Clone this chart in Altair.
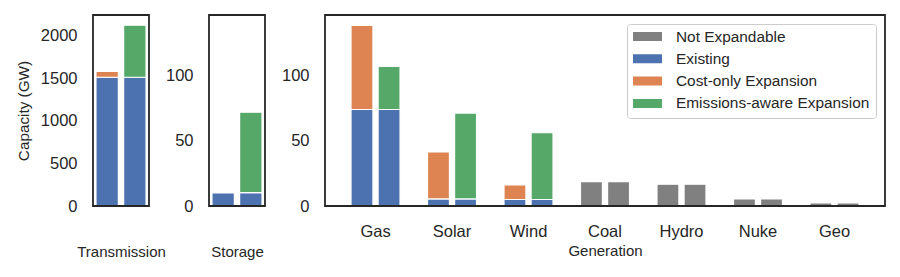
import altair as alt
import pandas as pd

# ---- data ----
components = ["Not Expandable", "Existing", "Cost-only Expansion", "Emissions-aware Expansion"]
colors = ["#808080", "#4C72B0", "#DD8452", "#55A868"]
scenarios = ["Cost-only", "Emissions-aware"]

trans_existing = [1510, 1510]
trans_expansion = [70, 610]

storage_existing = [10.0, 10.3]
storage_expansion = [0, 61.7]

gen_categories = ["Gas", "Solar", "Wind", "Coal", "Hydro", "Nuke", "Geo"]
gen_not_expandable = [0, 0, 0, 18.7, 16.7, 5.4, 2.3]
gen_existing = [74.0, 5.4, 5.0, 0, 0, 0, 0]
gen_cost_expansion = [64.5, 36.1, 11.2, 0, 0, 0, 0]
gen_emis_expansion = [33.0, 65.9, 51.2, 0, 0, 0, 0]


def build_rows(category, scenario, existing, expansion, not_exp=0):
    exp_comp = "Cost-only Expansion" if scenario == "Cost-only" else "Emissions-aware Expansion"
    out = []
    for comp, val, order in [("Not Expandable", not_exp, 0), ("Existing", existing, 1), (exp_comp, expansion, 2)]:
        if val > 0:
            out.append({"category": category, "scenario": scenario, "component": comp,
                        "value": val, "order": order})
    return out


trans_rows, storage_rows, gen_rows = [], [], []
for i, s in enumerate(scenarios):
    trans_rows += build_rows("Transmission", s, trans_existing[i], trans_expansion[i])
    storage_rows += build_rows("Storage", s, storage_existing[i], storage_expansion[i])
for j, c in enumerate(gen_categories):
    gen_rows += build_rows(c, "Cost-only", gen_existing[j], gen_cost_expansion[j], gen_not_expandable[j])
    gen_rows += build_rows(c, "Emissions-aware", gen_existing[j], gen_emis_expansion[j], gen_not_expandable[j])

df_trans = pd.DataFrame(trans_rows)
df_storage = pd.DataFrame(storage_rows)
df_gen = pd.DataFrame(gen_rows)

TXT = "#262626"
FONT = "Liberation Sans"
H = 191
color_scale = alt.Scale(domain=components, range=colors)
bar_kw = dict(stroke="white", strokeWidth=1.2)


def frame(w):
    return alt.Chart(pd.DataFrame({"f": [0]})).mark_rect(
        fill=None, filled=False, stroke=TXT, strokeWidth=1.8
    ).encode(x=alt.value(0), x2=alt.value(w), y=alt.value(0), y2=alt.value(H))


def yaxis(values, title=None):
    kw = dict(values=values, format="d", ticks=False, domain=False, grid=False, labelFontSize=16.5,
              labelColor=TXT, labelPadding=16, labelFont=FONT)
    if title:
        kw.update(title=title, titleFontSize=15.3, titleFontWeight="normal", titleColor=TXT,
                  titlePadding=9, titleFont=FONT)
    else:
        kw.update(title=None)
    return alt.Axis(**kw)


def small_panel(df, title, ymax, yvals, ytitle=None):
    bars = alt.Chart(df).mark_bar(**bar_kw).encode(
        x=alt.X("scenario:N", sort=scenarios,
                scale=alt.Scale(paddingInner=0.19, paddingOuter=0.107),
                axis=alt.Axis(title=title, labels=False, ticks=False, domain=False,
                              titleFontSize=15, titleFontWeight="normal", titleColor=TXT,
                              titlePadding=38, titleFont=FONT)),
        y=alt.Y("value:Q", stack="zero", scale=alt.Scale(domain=[0, ymax], nice=False, zero=True),
                axis=yaxis(yvals, ytitle)),
        color=alt.Color("component:N", scale=color_scale, legend=None),
        order=alt.Order("order:Q", sort="ascending"),
    )
    return alt.layer(bars, frame(56)).properties(width=56, height=H)


trans = small_panel(df_trans, "Transmission", 2240, [0, 500, 1000, 1500, 2000], "Capacity (GW)")
storage = small_panel(df_storage, "Storage", 146.5, [0, 50, 100])

gen_bars = alt.Chart(df_gen).mark_bar(**bar_kw).encode(
    x=alt.X("category:N", sort=gen_categories,
            scale=alt.Scale(paddingInner=0.359, paddingOuter=0.34),
            axis=alt.Axis(title="Generation", labelAngle=0, ticks=False, domain=False,
                          labelFontSize=16.5, labelColor=TXT, labelPadding=17, labelFont=FONT,
                          titleFontSize=15, titleFontWeight="normal", titleColor=TXT,
                          titlePadding=4, titleFont=FONT)),
    xOffset=alt.XOffset("scenario:N", sort=scenarios,
                        scale=alt.Scale(paddingInner=0.19, paddingOuter=0)),
    y=alt.Y("value:Q", stack="zero", scale=alt.Scale(domain=[0, 146.5], nice=False),
            axis=yaxis([0, 50, 100])),
    color=alt.Color("component:N", scale=color_scale,
                    legend=alt.Legend(title=None, orient="top-right", offset=9, padding=6,
                                      strokeColor="#cccccc", cornerRadius=3, fillColor="white",
                                      symbolType="M-1,-0.31L1,-0.31L1,0.31L-1,0.31Z",
                                      symbolSize=841, symbolStrokeWidth=0, symbolOpacity=1,
                                      labelFontSize=15.4, labelColor=TXT, labelFont=FONT,
                                      labelOffset=14, clipHeight=13, rowPadding=6.3,
                                      labelLimit=400)),
    order=alt.Order("order:Q", sort="ascending"),
)
gen = alt.layer(gen_bars, frame(560)).properties(width=560, height=H)

chart = alt.hconcat(trans, storage, gen, spacing=60, bounds="flush").resolve_scale(
    y="independent", color="independent"
).resolve_legend(color="independent").properties(
    padding={"left": 8, "top": 6, "right": 5, "bottom": 5}
).configure(font=FONT).configure_view(stroke=None)

chart.save("out.html", embed_options={"renderer": "svg", "actions": False})
